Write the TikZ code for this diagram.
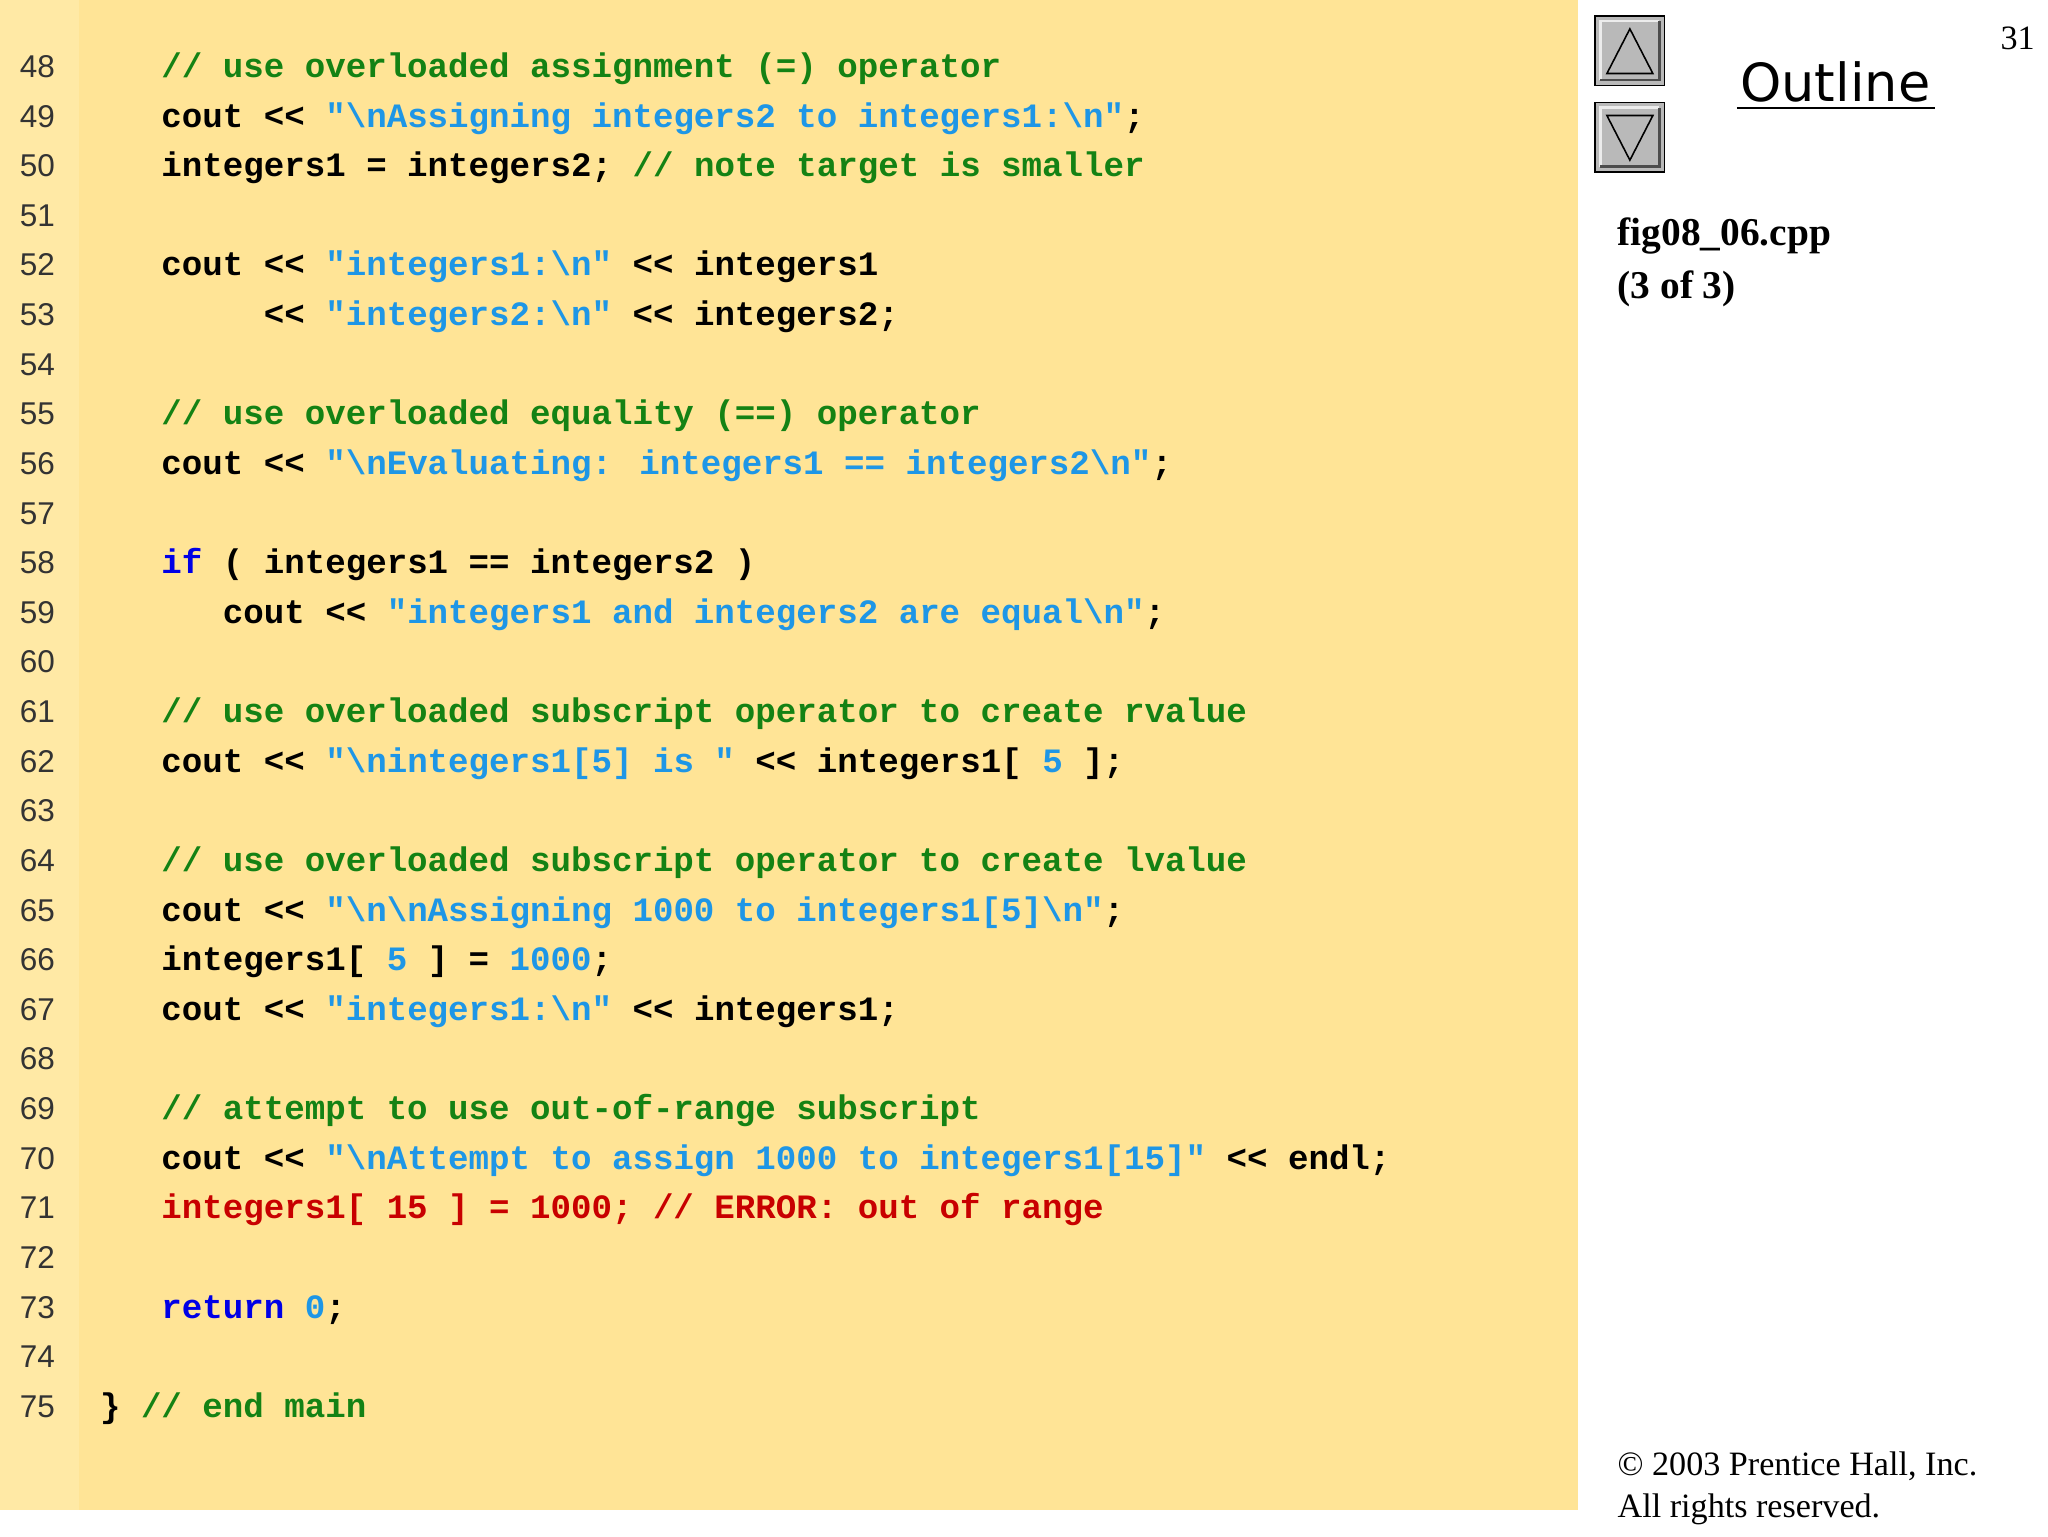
\documentclass[tikz,border=0pt]{standalone}
\usepackage{fontspec}
\setmainfont{Liberation Serif}
\newfontfamily\codefont{Liberation Mono}
\newfontfamily\numfont{Liberation Sans}
\newfontfamily\outfont{DejaVu Sans}
\definecolor{bgy}{RGB}{255,228,150}
\definecolor{bgs}{RGB}{255,233,165}
\definecolor{cgreen}{RGB}{20,130,20}
\definecolor{cstr}{RGB}{30,150,230}
\definecolor{ckw}{RGB}{0,0,230}
\definecolor{cred}{RGB}{200,0,0}
\newcommand{\cmt}[1]{\textcolor{cgreen}{#1}}
\newcommand{\str}[1]{\textcolor{cstr}{#1}}
\newcommand{\kwd}[1]{\textcolor{ckw}{#1}}
\newcommand{\bs}{\textbackslash}
\begin{document}
\begin{tikzpicture}[x=1pt,y=-1pt,
  code/.style={anchor=base west,inner sep=0,font=\codefont\bfseries\fontsize{26}{26}\selectfont},
  num/.style={anchor=base west,inner sep=0,font=\numfont\fontsize{24}{24}\selectfont,text=black!80},
  side/.style={anchor=base west,inner sep=0,font=\fontsize{30}{30}\selectfont\bfseries}]
\useasboundingbox (0,0) rectangle (1560,1170);
\fill[white] (0,0) rectangle (1560,1170);
\fill[bgy] (0,0) rectangle (1202,1150);
\fill[bgs] (0,0) rectangle (60,1150);
\foreach \n [count=\i from 0] in {48,...,75}
  \node[num] (n\n) at (15,{59+37.8*\i}) {\n};
\def\cx#1{76+15.6*#1}
\newcommand{\cl}[3]{\node[code] (c#1) at ({\cx{#2}},{59+37.8*(#1-48)}) {#3};}
\cl{48}{3}{\cmt{// use overloaded assignment (=) operator}}
\cl{49}{3}{cout << \str{"\bs nAssigning integers2 to integers1:\bs n"};}
\cl{50}{3}{integers1 = integers2;  \cmt{// note target is smaller}}
\cl{52}{3}{cout << \str{"integers1:\bs n"} << integers1}
\cl{53}{8}{<< \str{"integers2:\bs n"} << integers2;}
\cl{55}{3}{\cmt{// use overloaded equality (==) operator}}
\cl{56}{3}{cout << \str{"\bs nEvaluating: integers1 == integers2\bs n"};}
\cl{58}{3}{\kwd{if} ( integers1 == integers2 )}
\cl{59}{6}{cout << \str{"integers1 and integers2 are equal\bs n"};}
\cl{61}{3}{\cmt{// use overloaded subscript operator to create rvalue}}
\cl{62}{3}{cout << \str{"\bs nintegers1[5] is "} << integers1[ \str{5} ];}
\cl{64}{3}{\cmt{// use overloaded subscript operator to create lvalue}}
\cl{65}{3}{cout << \str{"\bs n\bs nAssigning 1000 to integers1[5]\bs n"};}
\cl{66}{3}{integers1[ \str{5} ] = \str{1000};}
\cl{67}{3}{cout << \str{"integers1:\bs n"} << integers1;}
\cl{69}{3}{\cmt{// attempt to use out-of-range subscript}}
\cl{70}{3}{cout << \str{"\bs nAttempt to assign 1000 to integers1[15]"} << endl;}
\cl{71}{3}{\textcolor{cred}{integers1[ 15 ] = 1000;  // ERROR: out of range}}
\cl{73}{3}{\kwd{return} \str{0};}
\cl{75}{0}{\} \cmt{// end main}}
% buttons
\foreach \y/\up in {12/1,78/0}{
  \fill[gray!55] (1215,\y) rectangle (1268,\y+53);
  \draw[black,line width=1.2pt] (1215,\y) rectangle (1268,\y+53);
  \draw[white!85!gray,line width=2pt] (1219,\y+49) -- (1219,\y+4) -- (1264,\y+4);
  \draw[black!70,line width=2pt] (1219,\y+49) -- (1264,\y+49) -- (1264,\y+4);
  \ifnum\up=1
    \draw[black,line width=1.2pt] (1224,\y+44) -- (1241.5,\y+10) -- (1259,\y+44) -- cycle;
  \else
    \draw[black,line width=1.2pt] (1224,\y+10) -- (1241.5,\y+44) -- (1259,\y+10) -- cycle;
  \fi
}
\node[anchor=base,inner sep=0,font=\outfont\fontsize{40}{40}\selectfont] (outl) at (1398,77) {Outline};
\draw[line width=1.5pt] (1323,82) -- (1474,82);
\node[anchor=base east,inner sep=0,font=\fontsize{26}{26}\selectfont] (pg) at (1550,38) {31};
\node[side] (f1) at (1232,187) {fig08\_06.cpp};
\node[side] (f2) at (1232,227) {(3 of 3)};
\node[anchor=base west,inner sep=0,font=\fontsize{26}{26}\selectfont] (cp1) at (1232,1124) {© 2003 Prentice Hall, Inc.};
\node[anchor=base west,inner sep=0,font=\fontsize{26}{26}\selectfont] (cp2) at (1232,1156) {All rights reserved.};
\end{tikzpicture}
\end{document}
